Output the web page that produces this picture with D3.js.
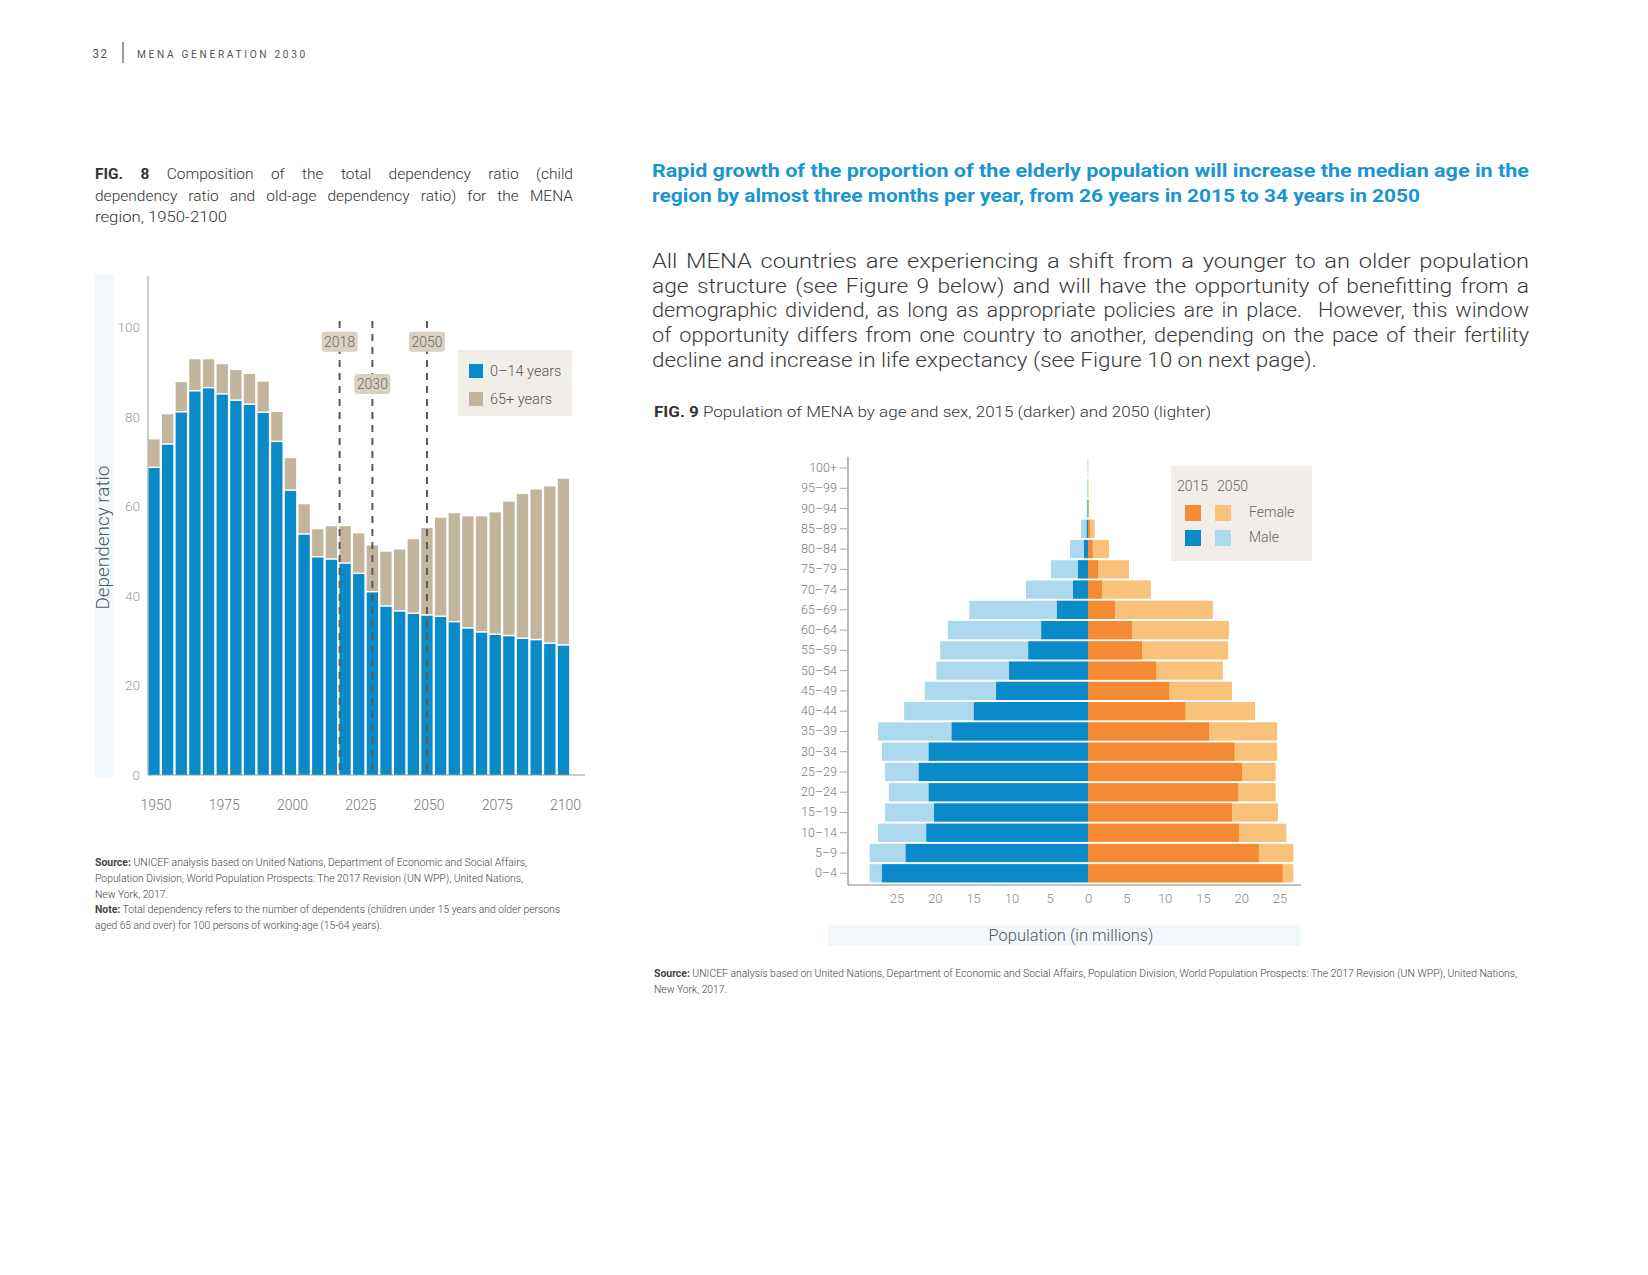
<!DOCTYPE html>
<html>
<head>
<meta charset="utf-8">
<script src="https://cdn.jsdelivr.net/npm/d3@7"></script>
<style>
  body { margin: 0; background: #fff; }
  text { font-family: Roboto, "Liberation Sans", sans-serif; }
</style>
</head>
<body>
<div id="page"></div>
<script>
// ---- FIG 8: dependency ratio, 1950-2100 ----
const years = d3.range(1950, 2101, 5);
const childRatio = [68.6, 73.8, 81.0, 85.7, 86.4, 85.0, 83.6, 82.7, 80.9, 74.4, 63.5, 53.7, 48.6, 48.1, 47.2, 44.9,
                    40.8, 37.6, 36.5, 36.0, 35.6, 35.3, 34.1, 32.7, 31.8, 31.3, 31.0, 30.4, 30.1, 29.3, 28.9];
const oldRatio   = [6.4, 6.8, 6.8, 7.2, 6.5, 6.8, 6.9, 6.9, 7.0, 6.7, 7.3, 6.8, 6.3, 7.5, 8.4, 9.1,
                    10.5, 12.3, 13.9, 16.7, 19.6, 22.2, 24.4, 25.1, 26.0, 27.4, 30.1, 32.4, 33.7, 35.2, 37.3];
const markerYears = [2018, 2030, 2050];
const yTicks8 = [0, 20, 40, 60, 80, 100];
const xTicks8 = [1950, 1975, 2000, 2025, 2050, 2075, 2100];
const legend8 = ["0–14 years", "65+ years"];

// ---- FIG 9: population pyramid (millions), youngest first ----
const ageGroups = ["0–4", "5–9", "10–14", "15–19", "20–24", "25–29", "30–34", "35–39", "40–44", "45–49", "50–54",
                   "55–59", "60–64", "65–69", "70–74", "75–79", "80–84", "85–89", "90–94", "95–99", "100+"];
const male2015   = [26.9, 23.8, 21.1, 20.1, 20.8, 22.1, 20.8, 17.8, 14.9, 12.0, 10.3, 7.8, 6.1, 4.05, 1.96, 1.31, 0.52, 0.17, 0.05, 0.02, 0.01];
const male2050   = [28.5, 28.5, 27.4, 26.5, 26.0, 26.5, 26.9, 27.4, 24.0, 21.3, 19.8, 19.3, 18.3, 15.5, 8.1, 4.83, 2.35, 0.91, 0.15, 0.08, 0.03];
const female2015 = [25.4, 22.3, 19.7, 18.8, 19.6, 20.1, 19.1, 15.8, 12.7, 10.6, 8.9, 7.05, 5.74, 3.52, 1.83, 1.31, 0.61, 0.26, 0.06, 0.02, 0.01];
const female2050 = [26.8, 26.8, 25.9, 24.8, 24.5, 24.5, 24.7, 24.7, 21.8, 18.8, 17.6, 18.3, 18.4, 16.3, 8.2, 5.35, 2.74, 0.87, 0.1, 0.04, 0.02];
const popTicks = [0, 5, 10, 15, 20, 25];

const BLUE = "#0a8ac8", TAN = "#c2b59b", LBLUE = "#acd9ed", ORANGE = "#f58a35", LORANGE = "#f9c27a";

const svg = d3.select("#page").append("svg")
    .attr("width", 1648).attr("height", 1275)
    .style("display", "block");
svg.append("rect").attr("width", 1648).attr("height", 1275).attr("fill", "#fff");

// Helper: one line of text, parts = [[text, bold], ...], fitted to a width
function textLine(x, y, parts, size, fill, width, justify, weight, maxWordGap) {
    const t = svg.append("text")
        .attr("x", x).attr("y", y)
        .attr("xml:space", "preserve")
        .style("font-size", size + "px")
        .style("fill", fill)
        .style("font-weight", weight || 400);
    if (typeof parts === "string") parts = [[parts, false]];
    parts.forEach(p => t.append("tspan").text(p[0]).style("font-weight", p[1] ? 700 : null));
    if (width) {
        const node = t.node();
        const w = node.getComputedTextLength();
        const spaces = (node.textContent.match(/ /g) || []).length;
        if (justify && w < width && spaces > 0) {
            const gap = Math.min((width - w) / spaces, maxWordGap || 1e9);
            t.style("word-spacing", gap + "px");
            if (maxWordGap) t.attr("textLength", width).attr("lengthAdjust", "spacingAndGlyphs");
        } else {
            t.attr("textLength", width).attr("lengthAdjust", "spacingAndGlyphs");
        }
    }
    return t;
}

// ---- Page header ----
textLine(92.5, 58, "32", 12, "#555", 16).style("letter-spacing", "1.5px");
svg.append("line").attr("x1", 123).attr("x2", 123).attr("y1", 42).attr("y2", 63)
    .attr("stroke", "#555").attr("stroke-width", 1.2);
textLine(137, 58, "MENA GENERATION 2030", 11.5, "#555", 171).style("letter-spacing", "3px");

// ---- FIG 8 caption ----
textLine(95, 179, [["FIG. 8", true], [" Composition of the total dependency ratio (child", false]], 15.5, "#333", 478, true, 300);
textLine(95, 200.5, "dependency ratio and old-age dependency ratio) for the MENA", 15.5, "#333", 478, true, 300);
textLine(95, 222, "region, 1950-2100", 15.5, "#333", 132, false, 300);

// ---- FIG 8 chart ----
const step8 = 13.65, left8 = 148.3;
const x8 = d3.scaleBand().domain(years)
    .range([left8, left8 + step8 * (years.length - 0.17)])
    .paddingInner(0.17).paddingOuter(0);
const y8 = d3.scaleLinear().domain([0, 111]).range([775, 278.3]);
const xYear = d3.scaleLinear().domain([1950, 2100])
    .range([x8(1950) + x8.bandwidth() / 2, x8(2100) + x8.bandwidth() / 2]);

// y title band
svg.append("rect").attr("x", 95).attr("y", 275).attr("width", 18.5).attr("height", 503).attr("fill", "#f2f9fd");
textLine(0, 0, "Dependency ratio", 17.5, "#4f5b66", 144, false, 300)
    .attr("transform", "translate(109,609.6) rotate(-90)");

const bars8 = svg.append("g");
bars8.selectAll(".old").data(years).enter().append("rect")
    .attr("x", d => x8(d))
    .attr("width", x8.bandwidth())
    .attr("y", (d, i) => y8(childRatio[i] + oldRatio[i]))
    .attr("height", (d, i) => y8(childRatio[i]) - y8(childRatio[i] + oldRatio[i]) - 1.5)
    .attr("fill", TAN);
bars8.selectAll(".child").data(years).enter().append("rect")
    .attr("x", d => x8(d))
    .attr("width", x8.bandwidth())
    .attr("y", (d, i) => y8(childRatio[i]))
    .attr("height", (d, i) => y8(0) - y8(childRatio[i]))
    .attr("fill", BLUE);

// axes
svg.append("line").attr("x1", 148).attr("x2", 148).attr("y1", 276).attr("y2", 775)
    .attr("stroke", "#aaa").attr("stroke-width", 1.2);
svg.append("line").attr("x1", 148).attr("x2", 585).attr("y1", 775).attr("y2", 775)
    .attr("stroke", "#999").attr("stroke-width", 1.2);

const yAxis8 = svg.append("g").attr("transform", "translate(148,0)")
    .call(d3.axisLeft(y8).tickValues(yTicks8).tickSize(0).tickPadding(8));
yAxis8.select(".domain").remove();
yAxis8.selectAll("text").style("font-size", "13.5px").style("fill", "#999")
    .style("font-family", "Roboto, 'Liberation Sans', sans-serif").style("font-weight", 300);

const xAxis8 = svg.append("g").attr("transform", "translate(2,775)")
    .call(d3.axisBottom(x8).tickValues(xTicks8).tickSize(0).tickPadding(25));
xAxis8.select(".domain").remove();
xAxis8.selectAll("text").style("font-size", "14px").style("fill", "#777")
    .style("font-family", "Roboto, 'Liberation Sans', sans-serif").style("font-weight", 300);

// marker lines and labels
svg.append("g").selectAll("line").data(markerYears).enter().append("line")
    .attr("x1", d => xYear(d)).attr("x2", d => xYear(d))
    .attr("y1", 321).attr("y2", 775)
    .attr("stroke", "#5a5a5a").attr("stroke-width", 2).attr("stroke-dasharray", "7,6");
const labelY = { 2018: 341.7, 2030: 384, 2050: 341.7 };
const mk = svg.append("g").selectAll("g").data(markerYears).enter().append("g")
    .attr("transform", d => `translate(${xYear(d)},${labelY[d]})`);
mk.append("rect").attr("x", -18).attr("y", -10).attr("width", 36).attr("height", 20).attr("rx", 3)
    .attr("fill", "#d9d2c3");
mk.append("text").attr("text-anchor", "middle").attr("y", 5)
    .style("font-size", "14px").style("fill", "#6b6b6b").style("font-weight", 300)
    .text(d => d);

// legend
svg.append("rect").attr("x", 458).attr("y", 350).attr("width", 114).attr("height", 66).attr("fill", "#f1eee9");
const lg8 = svg.append("g").selectAll("g").data(legend8).enter().append("g")
    .attr("transform", (d, i) => `translate(469,${364 + i * 28})`);
lg8.append("rect").attr("width", 14).attr("height", 14).attr("fill", (d, i) => i === 0 ? BLUE : TAN);
lg8.append("text").attr("x", 21).attr("y", 12)
    .style("font-size", "14.5px").style("fill", "#555").style("font-weight", 300)
    .text(d => d);

// FIG 8 source
textLine(95, 866, [["Source:", true], [" UNICEF analysis based on United Nations, Department of Economic and Social Affairs,", false]], 11.5, "#444", 432, false, 300);
textLine(95, 882, "Population Division, World Population Prospects: The 2017 Revision (UN WPP), United Nations,", 11.5, "#444", 428, false, 300);
textLine(95, 897.5, "New York, 2017.", 11.5, "#444", 73, false, 300);
textLine(95, 913, [["Note:", true], [" Total dependency refers to the number of dependents (children under 15 years and older persons", false]], 11.5, "#444", 465, false, 300);
textLine(95, 928.5, "aged 65 and over) for 100 persons of working-age (15-64 years).", 11.5, "#444", 287, false, 300);

// ---- Right column text ----
textLine(652, 176.5, "Rapid growth of the proportion of the elderly population will increase the median age in the", 19, "#1a95d2", 877, false, 700);
textLine(652, 202, "region by almost three months per year, from 26 years in 2015 to 34 years in 2050", 19, "#1a95d2", 768, false, 700);

const para = [
    "All MENA countries are experiencing a shift from a younger to an older population",
    "age structure (see Figure 9 below) and will have the opportunity of benefitting from a",
    "demographic dividend, as long as appropriate policies are in place.  However, this window",
    "of opportunity differs from one country to another, depending on the pace of their fertility",
    "decline and increase in life expectancy (see Figure 10 on next page)."
];
const paraY = [267.5, 292.5, 317, 342, 367];
para.forEach((line, i) => {
    const last = i === para.length - 1;
    textLine(652, paraY[i], line, 20.5, "#3a3a3a", last ? 665 : 877, !last, 300, 2.5);
});

textLine(654, 416.5, [["FIG. 9", true], [" Population of MENA by age and sex, 2015 (darker) and 2050 (lighter)", false]], 15, "#333", 557, false, 300);

// ---- FIG 9 pyramid ----
const zeroX = 1088, pxPerM = 7.66;
const xMale = d3.scaleLinear().domain([0, 30]).range([zeroX, zeroX - 30 * pxPerM]);
const xFemale = d3.scaleLinear().domain([0, 30]).range([zeroX, zeroX + 30 * pxPerM]);
const y9 = d3.scaleBand().domain(ageGroups.slice().reverse())
    .range([458.9, 882.4]).paddingInner(0.1).paddingOuter(0);

const p9 = svg.append("g");
function pyramidBars(values, scale, color, male) {
    p9.append("g").selectAll("rect").data(ageGroups).enter().append("rect")
        .attr("x", (d, i) => male ? scale(values[i]) : zeroX)
        .attr("width", (d, i) => Math.abs(scale(values[i]) - zeroX))
        .attr("y", d => y9(d))
        .attr("height", y9.bandwidth())
        .attr("fill", color);
}
pyramidBars(male2050, xMale, LBLUE, true);
pyramidBars(male2015, xMale, BLUE, true);
pyramidBars(female2050, xFemale, LORANGE, false);
pyramidBars(female2015, xFemale, ORANGE, false);

// axes
svg.append("line").attr("x1", 848).attr("x2", 848).attr("y1", 456.7).attr("y2", 885)
    .attr("stroke", "#888").attr("stroke-width", 1.2);
svg.append("line").attr("x1", 848).attr("x2", 1301).attr("y1", 885).attr("y2", 885)
    .attr("stroke", "#888").attr("stroke-width", 1.2);

const yAxis9 = svg.append("g").attr("transform", "translate(847,0)")
    .call(d3.axisLeft(y9).tickSize(7).tickPadding(3));
yAxis9.select(".domain").remove();
yAxis9.selectAll("line").attr("stroke", "#aaa");
yAxis9.selectAll("text").style("font-size", "12.5px").style("fill", "#777")
    .style("font-family", "Roboto, 'Liberation Sans', sans-serif").style("font-weight", 300);

const xAxisM = svg.append("g").attr("transform", "translate(0,885)")
    .call(d3.axisBottom(xMale).tickValues(popTicks.slice(1)).tickSize(0).tickPadding(9));
const xAxisF = svg.append("g").attr("transform", "translate(0,885)")
    .call(d3.axisBottom(xFemale).tickValues(popTicks).tickSize(0).tickPadding(9));
[xAxisM, xAxisF].forEach(a => {
    a.select(".domain").remove();
    a.selectAll("text").style("font-size", "13px").style("fill", "#888")
        .style("font-family", "Roboto, 'Liberation Sans', sans-serif").style("font-weight", 300);
});

// legend
svg.append("rect").attr("x", 1171).attr("y", 466).attr("width", 141).attr("height", 95).attr("fill", "#f1eee9");
svg.append("text").attr("x", 1177).attr("y", 491).style("font-size", "14px").style("fill", "#666").style("font-weight", 300).text("2015");
svg.append("text").attr("x", 1217).attr("y", 491).style("font-size", "14px").style("fill", "#666").style("font-weight", 300).text("2050");
const lg9 = [
    { label: "Female", dark: ORANGE, light: LORANGE },
    { label: "Male", dark: BLUE, light: LBLUE }
];
const lgRows = svg.append("g").selectAll("g").data(lg9).enter().append("g")
    .attr("transform", (d, i) => `translate(1185,${505 + i * 25})`);
lgRows.append("rect").attr("width", 16).attr("height", 16).attr("fill", d => d.dark);
lgRows.append("rect").attr("x", 30).attr("width", 16).attr("height", 16).attr("fill", d => d.light);
lgRows.append("text").attr("x", 64).attr("y", 12)
    .style("font-size", "14px").style("fill", "#666").style("font-weight", 300)
    .text(d => d.label);

// x title band
svg.append("rect").attr("x", 828).attr("y", 925).attr("width", 473).attr("height", 21).attr("fill", "#f0f8fc");
svg.append("text").attr("x", 1071).attr("y", 941).attr("text-anchor", "middle")
    .style("font-size", "16.5px").style("fill", "#555").style("font-weight", 300)
    .text("Population (in millions)");

// FIG 9 source
textLine(654, 977, [["Source:", true], [" UNICEF analysis based on United Nations, Department of Economic and Social Affairs, Population Division, World Population Prospects: The 2017 Revision (UN WPP), United Nations,", false]], 11.5, "#444", 863, false, 300);
textLine(654, 993, "New York, 2017.", 11.5, "#444", 73, false, 300);
</script>
</body>
</html>
